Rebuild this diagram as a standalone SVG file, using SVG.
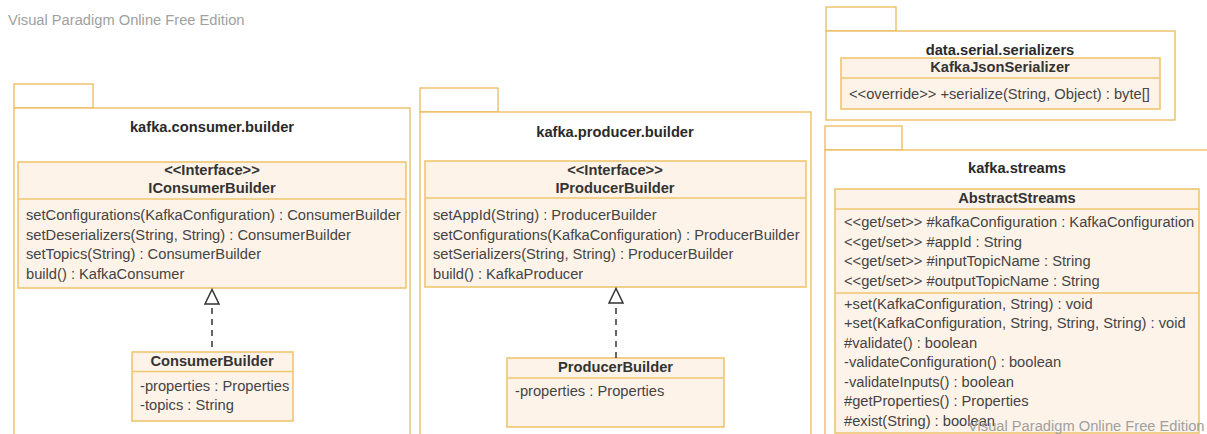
<svg xmlns="http://www.w3.org/2000/svg" width="1207" height="434" viewBox="0 0 1207 434">
<style>
text{font-family:"Liberation Sans",Arial,sans-serif;font-size:14.7px;fill:#444}
.t{font-weight:bold;text-anchor:middle;fill:#2a2a2a}
.c{text-anchor:middle;fill:#333;font-weight:bold}
.wm{fill:#a0a0a0}
.p{fill:#fff;stroke:#ebb95a;stroke-width:1.3}
.k{fill:#fef3e9;stroke:#efc670;stroke-width:1.6}
.d{fill:none;stroke:#efc670;stroke-width:1.6}
.dash{fill:none;stroke:#333;stroke-width:1.5;stroke-dasharray:6 5}
.tri{fill:#fff;stroke:#333;stroke-width:1.5}
</style>
<rect width="1207" height="434" fill="#fff"/>
<g id="pkg-consumer">
<rect class="p" x="14" y="84" width="79" height="24"/>
<rect class="p" x="14" y="108" width="396" height="330"/>
<text class="t" x="212" y="132">kafka.consumer.builder</text>
</g>
<g id="pkg-producer">
<rect class="p" x="420" y="88" width="78" height="24"/>
<rect class="p" x="420" y="112" width="391" height="326"/>
<text class="t" x="615" y="137">kafka.producer.builder</text>
</g>
<g id="pkg-serializers">
<rect class="p" x="826" y="7" width="70" height="24"/>
<rect class="p" x="826" y="31" width="349" height="89"/>
<text class="t" x="1000" y="54.500">data.serial.serializers</text>
</g>
<g id="pkg-streams">
<rect class="p" x="825" y="126" width="77" height="24"/>
<rect class="p" x="825" y="150" width="392" height="290"/>
<text class="t" x="1017" y="173">kafka.streams</text>
</g>
<g id="IConsumerBuilder">
<rect class="k" x="18" y="162" width="388" height="126"/>
<path class="d" d="M18 199H406"/>
<text class="c" x="212" y="175">&lt;&lt;Interface&gt;&gt;</text>
<text class="c" x="212" y="193">IConsumerBuilder</text>
<text x="26" y="220">setConfigurations(KafkaConfiguration) : ConsumerBuilder</text>
<text x="26" y="240">setDeserializers(String, String) : ConsumerBuilder</text>
<text x="26" y="259">setTopics(String) : ConsumerBuilder</text>
<text x="26" y="279">build() : KafkaConsumer</text>
</g>
<g id="ConsumerBuilder">
<rect class="k" x="132" y="352" width="161" height="69"/>
<path class="d" d="M132 371.500H293"/>
<text class="c" x="212" y="366">ConsumerBuilder</text>
<text x="140" y="391">-properties : Properties</text>
<text x="140" y="410">-topics : String</text>
</g>
<g id="IProducerBuilder">
<rect class="k" x="425" y="161" width="381" height="126"/>
<path class="d" d="M425 198H806"/>
<text class="c" x="615" y="175">&lt;&lt;Interface&gt;&gt;</text>
<text class="c" x="615" y="193">IProducerBuilder</text>
<text x="433" y="220">setAppId(String) : ProducerBuilder</text>
<text x="433" y="240">setConfigurations(KafkaConfiguration) : ProducerBuilder</text>
<text x="433" y="259">setSerializers(String, String) : ProducerBuilder</text>
<text x="433" y="279">build() : KafkaProducer</text>
</g>
<g id="ProducerBuilder">
<rect class="k" x="507" y="358" width="217" height="69"/>
<path class="d" d="M507 378H724"/>
<text class="c" x="615.500" y="372">ProducerBuilder</text>
<text x="515" y="396">-properties : Properties</text>
</g>
<g id="KafkaJsonSerializer">
<rect class="k" x="841" y="58" width="319" height="51"/>
<path class="d" d="M841 78H1160"/>
<text class="c" x="1000" y="72">KafkaJsonSerializer</text>
<text x="849" y="99">&lt;&lt;override&gt;&gt; +serialize(String, Object) : byte[]</text>
</g>
<g id="AbstractStreams">
<rect class="k" x="835" y="189" width="364" height="244"/>
<path class="d" d="M835 209H1199M835 293H1199"/>
<text class="c" x="1017" y="203">AbstractStreams</text>
<text x="844" y="227">&lt;&lt;get/set&gt;&gt; #kafkaConfiguration : KafkaConfiguration</text>
<text x="844" y="247">&lt;&lt;get/set&gt;&gt; #appId : String</text>
<text x="844" y="266">&lt;&lt;get/set&gt;&gt; #inputTopicName : String</text>
<text x="844" y="286">&lt;&lt;get/set&gt;&gt; #outputTopicName : String</text>
<text x="844" y="309">+set(KafkaConfiguration, String) : void</text>
<text x="844" y="328">+set(KafkaConfiguration, String, String, String) : void</text>
<text x="844" y="348">#validate() : boolean</text>
<text x="844" y="367">-validateConfiguration() : boolean</text>
<text x="844" y="387">-validateInputs() : boolean</text>
<text x="844" y="406">#getProperties() : Properties</text>
<text x="844" y="426">#exist(String) : boolean</text>
</g>
<g id="connectors">
<path class="dash" d="M212 347V304"/>
<path class="tri" d="M212 289.500L205 304H219Z"/>
<path class="dash" d="M616 358V303"/>
<path class="tri" d="M616 288.500L609 303H623Z"/>
</g>
<g id="watermarks">
<text class="wm" x="8" y="25">Visual Paradigm Online Free Edition</text>
<text class="wm" x="968" y="430.500">Visual Paradigm Online Free Edition</text>
</g>
</svg>
